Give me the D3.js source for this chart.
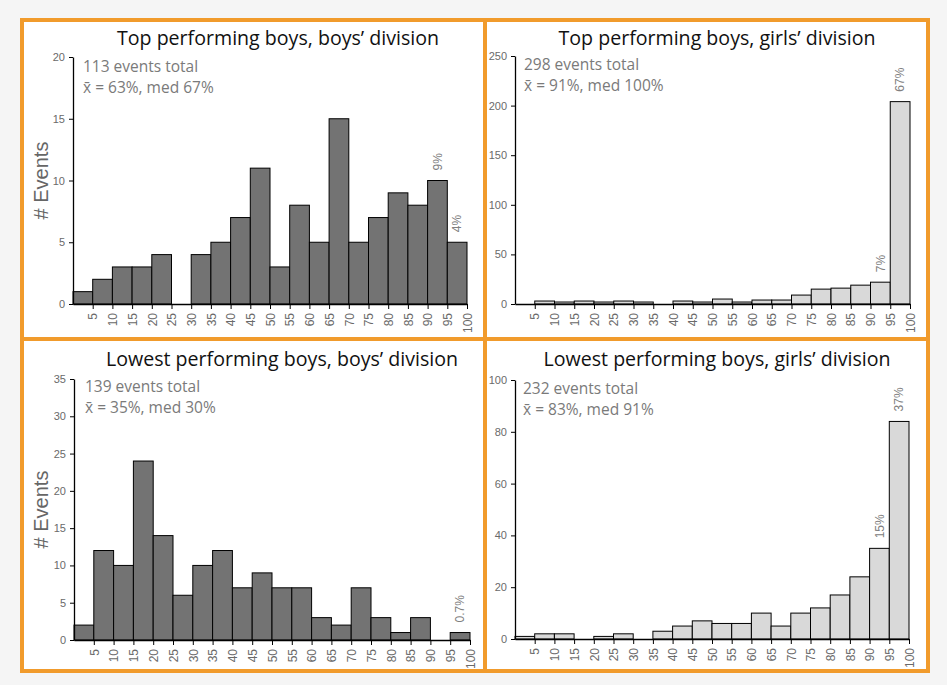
<!DOCTYPE html>
<html>
<head>
<meta charset="utf-8">
<script src="https://cdn.jsdelivr.net/npm/d3@7"></script>
<style>
  body { margin: 0; background: #f5f5f5; }
  svg { display: block; font-family: "Liberation Sans", Arial, sans-serif; }
  .title, .note { font-family: "Open Sans", "Noto Sans", sans-serif; }
</style>
</head>
<body>
<div id="chart"></div>
<script>
// 5-point bins from 0 to 100 (right edge used as the tick label)
const binEdges = [0, 5, 10, 15, 20, 25, 30, 35, 40, 45, 50, 55, 60, 65, 70, 75, 80, 85, 90, 95, 100];
const tickLabels = [5, 10, 15, 20, 25, 30, 35, 40, 45, 50, 55, 60, 65, 70, 75, 80, 85, 90, 95, 100];

const topBoysBoys  = [1, 2, 3, 3, 4, 0, 4, 5, 7, 11, 3, 8, 5, 15, 5, 7, 9, 8, 10, 5];
const topBoysGirls = [0, 3, 2, 3, 2, 3, 2, 0, 3, 2, 5, 2, 4, 4, 9, 15, 16, 19, 22, 204];
const lowBoysBoys  = [2, 12, 10, 24, 14, 6, 10, 12, 7, 9, 7, 7, 3, 2, 7, 3, 1, 3, 0, 1];
const lowBoysGirls = [1, 2, 2, 0, 1, 2, 0, 3, 5, 7, 6, 6, 10, 5, 10, 12, 17, 24, 35, 84];

const titles = [
  "Top performing boys, boys\u2019 division",
  "Top performing boys, girls\u2019 division",
  "Lowest performing boys, boys\u2019 division",
  "Lowest performing boys, girls\u2019 division"
];
const totals = ["113 events total", "298 events total", "139 events total", "232 events total"];
const stats = ["x\u0304 = 63%, med 67%", "x\u0304 = 91%, med 100%", "x\u0304 = 35%, med 30%", "x\u0304 = 83%, med 91%"];
const yMax = [20, 250, 35, 100];
const yStep = [5, 50, 5, 20];
// percent annotations: [bin index, label]
const pctTopBoysBoys  = [[18, "9%"], [19, "4%"]];
const pctTopBoysGirls = [[18, "7%"], [19, "67%"]];
const pctLowBoysBoys  = [[19, "0.7%"]];
const pctLowBoysGirls = [[18, "15%"], [19, "37%"]];

const W = 947, H = 685;
const orange = "#f19b2c";

const svg = d3.select("#chart").append("svg")
  .attr("width", W)
  .attr("height", H);

// panel frames
const frame = { x0: 22, x1: 928, y0: 20, y1: 671, xm: 485, ym: 339 };
svg.append("rect")
  .attr("x", frame.x0).attr("y", frame.y0)
  .attr("width", frame.x1 - frame.x0).attr("height", frame.y1 - frame.y0)
  .attr("fill", "#fff").attr("stroke", orange).attr("stroke-width", 4);
svg.append("line")
  .attr("x1", frame.xm).attr("x2", frame.xm).attr("y1", frame.y0).attr("y2", frame.y1)
  .attr("stroke", orange).attr("stroke-width", 4);
svg.append("line")
  .attr("x1", frame.x0).attr("x2", frame.x1).attr("y1", frame.ym).attr("y2", frame.ym)
  .attr("stroke", orange).attr("stroke-width", 4);

const panels = [
  { data: topBoysBoys,  pct: pctTopBoysBoys,  fill: "#737373", x0: 73,  x1: 467, yb: 304, yt: 57,  tx: 278, ty: 45,  nx: 83,  ny: 72,  ylab: true },
  { data: topBoysGirls, pct: pctTopBoysGirls, fill: "#d9d9d9", x0: 515, x1: 910, yb: 304, yt: 56,  tx: 717, ty: 45,  nx: 524, ny: 70,  ylab: false },
  { data: lowBoysBoys,  pct: pctLowBoysBoys,  fill: "#737373", x0: 74,  x1: 470, yb: 640, yt: 379, tx: 282, ty: 366, nx: 85,  ny: 392, ylab: true },
  { data: lowBoysGirls, pct: pctLowBoysGirls, fill: "#d9d9d9", x0: 515, x1: 909, yb: 639, yt: 380, tx: 717, ty: 366, nx: 523, ny: 394, ylab: false }
];

panels.forEach((p, i) => {
  const g = svg.append("g");
  const x = d3.scaleLinear().domain([0, 100]).range([p.x0, p.x1]);
  const y = d3.scaleLinear().domain([0, yMax[i]]).range([p.yb, p.yt]);

  // bars
  g.selectAll("rect.bar")
    .data(p.data.map((v, k) => ({ v, a: binEdges[k], b: binEdges[k + 1] })).filter(d => d.v > 0))
    .enter()
    .append("rect")
    .attr("class", "bar")
    .attr("x", d => x(d.a))
    .attr("width", d => x(d.b) - x(d.a))
    .attr("y", d => y(d.v))
    .attr("height", d => y(0) - y(d.v))
    .attr("fill", p.fill)
    .attr("stroke", "#000")
    .attr("stroke-width", 1);

  // y axis
  const yAxis = g.append("g")
    .attr("transform", `translate(${p.x0},0)`)
    .call(d3.axisLeft(y).tickValues(d3.range(0, yMax[i] + 1, yStep[i])).tickSize(4).tickSizeOuter(0));
  yAxis.select(".domain").attr("stroke", "#000").attr("stroke-width", 1.3);
  yAxis.selectAll(".tick line").attr("stroke", "#000");
  yAxis.selectAll("text").attr("fill", "#6a6a6a").style("font-size", "11px").attr("x", -8);

  // x axis
  const xAxis = g.append("g")
    .attr("transform", `translate(0,${p.yb})`)
    .call(d3.axisBottom(x).tickValues(tickLabels).tickSize(5).tickSizeOuter(0));
  xAxis.select(".domain").attr("stroke", "#000").attr("stroke-width", 1.3);
  xAxis.selectAll(".tick line").attr("stroke", "#000");
  xAxis.selectAll("text")
    .attr("fill", "#6a6a6a")
    .style("font-size", "12px")
    .attr("transform", "rotate(-90)")
    .attr("x", -9)
    .attr("y", 0)
    .attr("dy", "0.35em")
    .attr("text-anchor", "end");

  // percent annotations
  g.selectAll("text.pct")
    .data(p.pct)
    .enter()
    .append("text")
    .attr("class", "pct")
    .attr("transform", d => `translate(${x((binEdges[d[0]] + binEdges[d[0] + 1]) / 2)},${y(p.data[d[0]]) - 10}) rotate(-90)`)
    .attr("dy", "0.35em")
    .attr("fill", "#808080")
    .style("font-size", "12px")
    .text(d => d[1]);

  // title
  g.append("text")
    .attr("class", "title")
    .attr("x", p.tx).attr("y", p.ty)
    .attr("text-anchor", "middle")
    .attr("fill", "#111")
    .style("font-size", "19.6px")
    .text(titles[i]);

  // summary note
  g.append("text")
    .attr("class", "note")
    .attr("x", p.nx).attr("y", p.ny)
    .attr("fill", "#7a7a7a")
    .style("font-size", "15.5px")
    .text(totals[i]);
  g.append("text")
    .attr("class", "note")
    .attr("x", p.nx).attr("y", p.ny + 21)
    .attr("fill", "#7a7a7a")
    .style("font-size", "15.5px")
    .text(stats[i]);

  if (p.ylab) {
    g.append("text")
      .attr("transform", `translate(41,${(p.yb + p.yt) / 2}) rotate(-90)`)
      .attr("dy", "0.35em")
      .attr("text-anchor", "middle")
      .attr("fill", "#666")
      .style("font-size", "20px")
      .text("# Events");
  }
});
</script>
</body>
</html>
